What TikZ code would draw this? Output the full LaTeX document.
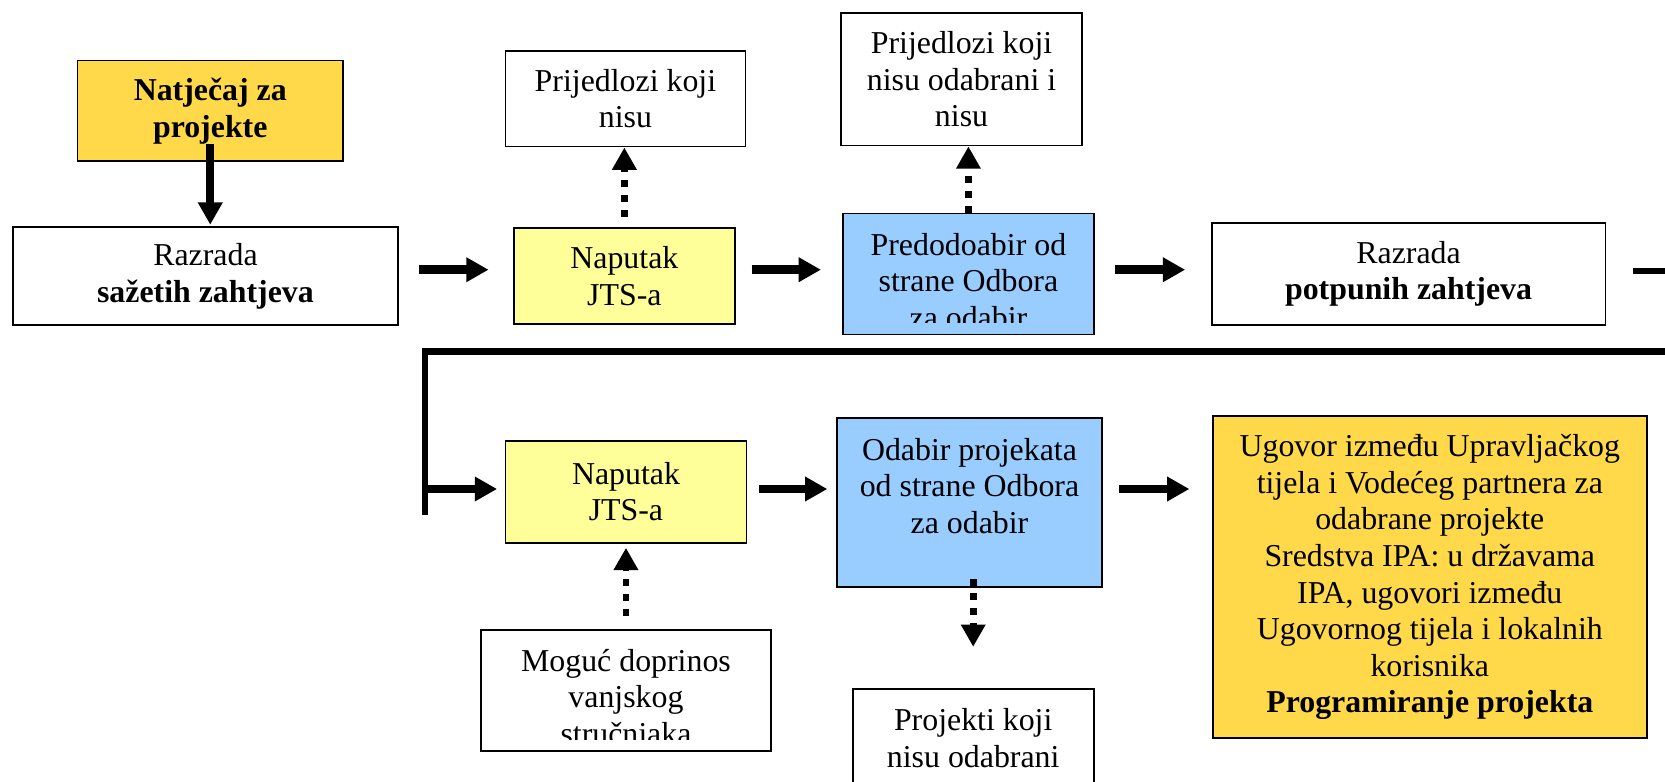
\documentclass[tikz,border=0pt]{standalone}
\usepackage{fontspec}
\setmainfont{Liberation Serif}
\usetikzlibrary{arrows.meta}

\definecolor{gold}{RGB}{255,217,74}
\definecolor{paleyellow}{RGB}{255,255,153}
\definecolor{paleblue}{RGB}{153,204,255}

\newcommand{\boxfont}{\fontsize{12}{13.8}\selectfont}

\begin{document}
\begin{tikzpicture}[x=0.4pt,y=-0.4pt,
    box/.style={draw, line width=0.7pt, align=center, font=\boxfont, inner sep=0pt},
    cutbox/.style={box, path picture={
        \clip ([yshift=-4.4pt]path picture bounding box.north west) rectangle ([yshift=4.4pt]path picture bounding box.south east);
        \node[draw=none, fill=none, anchor=north, align=center, inner sep=0pt,
              minimum width=0pt, minimum height=0pt, font=\boxfont]
            at ([yshift=-7pt]path picture bounding box.north) {#1};}},
    fat/.style={line width=3.2pt, -{Triangle[length=8.4pt,width=8.8pt]}},
    dots/.style={line width=2.6pt, dash pattern=on 2.6pt off 3pt, -{Triangle[length=8.4pt,width=8.8pt]}},
    rail/.style={line width=2.4pt}]

    \useasboundingbox (0,0) rectangle (1568,736);
    \clip (0,0) rectangle (1568,736);

    % first row
    \node[box, fill=gold, font=\boxfont\bfseries, minimum width=100pt, minimum height=38pt] (natjecaj) at (198,104.5) {Natječaj za\\projekte};
    \node[box, minimum width=145.2pt, minimum height=36.8pt] (sazeti) at (193.5,260) {Razrada\\\textbf{sažetih zahtjeva}};
    \node[box, fill=paleyellow, minimum width=83.2pt, minimum height=36pt] (naputakA) at (588,260) {Naputak\\JTS-a};
    \node[box, minimum width=90.4pt, minimum height=36pt] (odbijeniA) at (589,93) {Prijedlozi koji\\nisu};
    \node[cutbox={Predodoabir od\\strane Odbora\\za odabir}, fill=paleblue, minimum width=94.4pt, minimum height=45.6pt] (predodabir) at (912,258) {};
    \node[box, minimum width=90.8pt, minimum height=50pt] (odbijeniB) at (905.5,74.5) {Prijedlozi koji\\nisu odabrani i\\nisu};
    \node[box, minimum width=148.4pt, minimum height=38.4pt] (potpuni) at (1326.5,258) {Razrada\\\textbf{potpunih zahtjeva}};

    % second row
    \node[box, fill=paleyellow, minimum width=90.8pt, minimum height=38.4pt] (naputakB) at (589.5,463) {Naputak\\JTS-a};
    \node[cutbox={Moguć doprinos\\vanjskog\\stručnjaka}, minimum width=109.2pt, minimum height=45.6pt] (strucnjak) at (589.5,650) {};
    \node[cutbox={Odabir projekata\\od strane Odbora\\za odabir}, fill=paleblue, minimum width=100pt, minimum height=63.6pt] (odabir) at (913,473.5) {};
    \node[cutbox={Projekti koji\\nisu odabrani}, minimum width=90.8pt, minimum height=52.4pt] (odbijeni) at (916.5,714.5) {};
    \node[box, fill=gold, minimum width=163.6pt, minimum height=121.2pt] (ugovor) at (1346.5,543.5) {Ugovor između Upravljačkog\\tijela i Vodećeg partnera za\\odabrane projekte\\Sredstva IPA: u državama\\IPA, ugovori između\\Ugovornog tijela i lokalnih\\korisnika\\\textbf{Programiranje projekta}};

    % arrows, first row
    \draw[fat, shorten <=-6.8pt, shorten >=0.6pt] (natjecaj.south) -- (natjecaj.south |- sazeti.north);
    \draw[fat, shorten <=7.6pt, shorten >=9.2pt] ([yshift=2.4pt]sazeti.east) -- ([yshift=2.4pt]naputakA.west);
    \draw[fat, shorten <=6pt, shorten >=8pt] ([yshift=2.4pt]naputakA.east) -- ([yshift=2.4pt]predodabir.west |- naputakA.east);
    \draw[fat, shorten <=7.6pt, shorten >=9.6pt] ([yshift=1.6pt]predodabir.east) -- ([yshift=1.6pt]potpuni.west);
    \draw[dots, shorten <=4pt] (naputakA.north) -- (naputakA.north |- odbijeniA.south);
    \draw[dots] (predodabir.north) -- (predodabir.north |- odbijeniB.south);

    % return line
    \coordinate (izlaz) at (1568,255);
    \coordinate (povratak) at (1568,331);
    \coordinate (skret) at (400,331);
    \coordinate (kraj) at (400,485);
    \draw[rail, shorten <=10pt] (potpuni.east |- izlaz) -- (izlaz);
    \draw[rail] (povratak) -- (skret) -- (kraj);

    % arrows, second row
    \draw[fat, shorten >=2.8pt] ([yshift=1pt]skret |- naputakB.west) -- ([yshift=1pt]naputakB.west);
    \draw[fat, shorten <=4.4pt, shorten >=3.2pt] ([yshift=1pt]naputakB.east) -- ([yshift=1pt]naputakB.east -| odabir.west);
    \draw[fat, shorten <=6pt, shorten >=8.4pt] ([yshift=1pt]odabir.east |- naputakB.east) -- ([yshift=1pt]ugovor.west |- naputakB.east);
    \draw[dots, shorten <=4.8pt, shorten >=1.6pt] (strucnjak.north) -- (strucnjak.north |- naputakB.south);
    \draw[dots, shorten <=-3.6pt, shorten >=15.6pt] (odbijeni.north |- odabir.south) -- (odbijeni.north);

\end{tikzpicture}
\end{document}
